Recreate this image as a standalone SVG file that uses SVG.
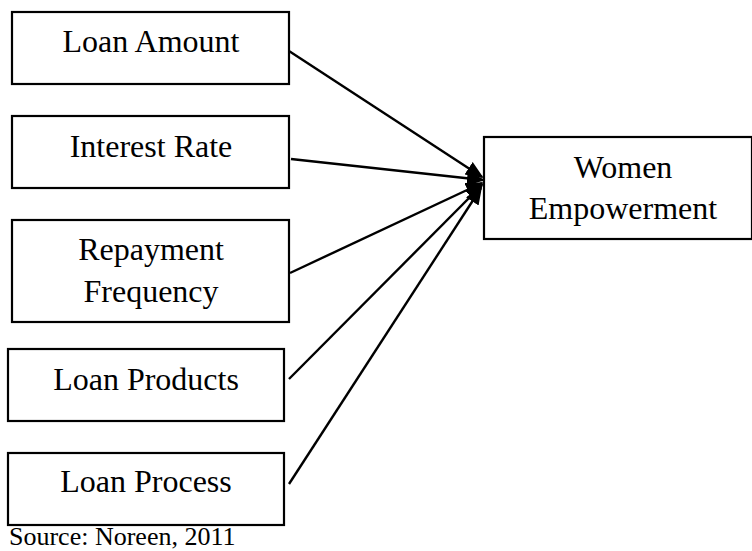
<svg xmlns="http://www.w3.org/2000/svg" width="752" height="551" viewBox="0 0 752 551">
<style>
.box{fill:#fff;stroke:#000;stroke-width:2.2}
.t{font-family:"Liberation Serif","Times New Roman",serif;font-size:32px;fill:#000;text-anchor:middle}
.src{font-family:"Liberation Serif","Times New Roman",serif;font-size:26px;fill:#000}
.c{stroke:#000;stroke-width:2.4;fill:none;marker-end:url(#ah)}
</style>
<defs>
<marker id="ah" markerUnits="userSpaceOnUse" markerWidth="20" markerHeight="16" refX="16" refY="7.5" orient="auto" viewBox="0 0 20 16">
<path d="M0,0 L18,7.5 L0,15 Z" fill="#000"/>
</marker>
</defs>
<rect width="752" height="551" fill="#fff"/>
<g id="n1"><rect class="box" x="12" y="12" width="277" height="72"/><text class="t" x="151" y="52">Loan Amount</text></g>
<g id="n2"><rect class="box" x="12" y="116" width="277" height="72"/><text class="t" x="151" y="157">Interest Rate</text></g>
<g id="n3"><rect class="box" x="12" y="220" width="277" height="102"/><text class="t" x="151" y="260">Repayment</text><text class="t" x="151" y="302">Frequency</text></g>
<g id="n4"><rect class="box" x="8" y="349" width="276" height="72"/><text class="t" x="146" y="390">Loan Products</text></g>
<g id="n5"><rect class="box" x="8" y="453" width="276" height="72"/><text class="t" x="146" y="492">Loan Process</text></g>
<g id="n6"><rect class="box" x="484" y="137" width="268" height="102"/><text class="t" x="623" y="178">Women</text><text class="t" x="623" y="219">Empowerment</text></g>
<g id="connectors">
<line class="c" x1="289" y1="51" x2="482" y2="177"/>
<line class="c" x1="291" y1="159" x2="483" y2="180"/>
<line class="c" x1="290" y1="273" x2="482" y2="183"/>
<line class="c" x1="289" y1="379" x2="482" y2="185"/>
<line class="c" x1="289" y1="484" x2="481" y2="188"/>
</g>
<text class="src" x="9" y="545">Source: Noreen, 2011</text>
</svg>
